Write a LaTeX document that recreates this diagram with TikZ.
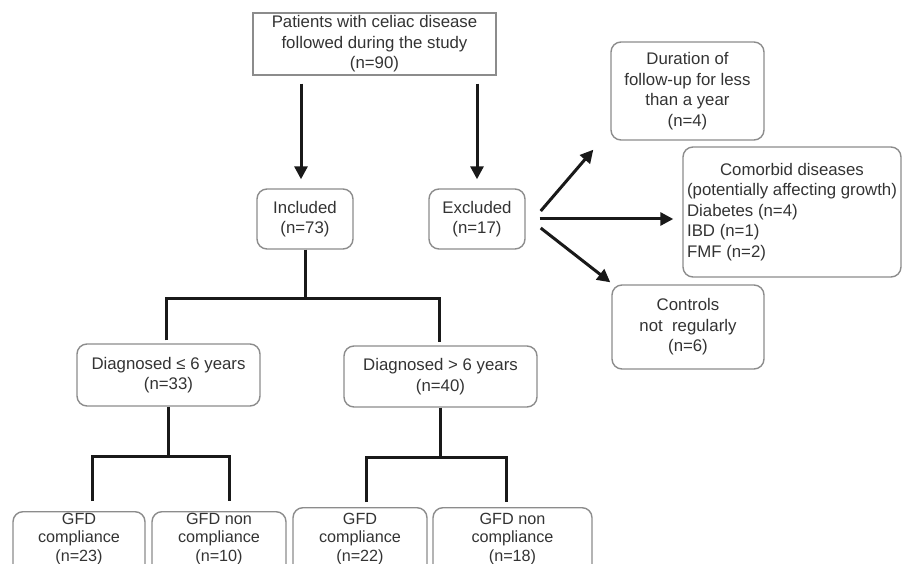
\documentclass[tikz,border=0pt]{standalone}
\usepackage{fontspec}
\setmainfont{Liberation Sans}
\usetikzlibrary{arrows.meta,calc}
\definecolor{boxgray}{HTML}{8C8C8C}
\definecolor{txtc}{HTML}{333333}
\begin{document}
\begin{tikzpicture}[x=1pt,y=-1pt,
  box/.style={draw=boxgray, line width=1.4pt, rounded corners=10pt, inner sep=0pt,
    align=center, text=txtc, font=\fontsize{16.8}{20.5}\selectfont},
  sqbox/.style={box, rounded corners=0pt},
  txt/.style={inner sep=0pt, align=center, text=txtc, font=\fontsize{16.2}{18.8}\selectfont},
  conn/.style={line width=3pt, draw=black!90},
  arr/.style={conn, -{Triangle[length=13pt,width=13pt]}}
]
\useasboundingbox (0,0) rectangle (903,564);
\clip (0,0) rectangle (903,564);

% nodes
\node[sqbox, minimum width=243pt, minimum height=62pt] (top) at (374.5,44)
  {Patients with celiac disease\\followed during the study\\(n=90)};
\node[box, minimum width=96pt, minimum height=60pt] (inc) at (305,219) {Included\\(n=73)};
\node[box, minimum width=96pt, minimum height=60pt] (exc) at (477,219) {Excluded\\(n=17)};
\node[box, minimum width=153pt, minimum height=98pt] (dur) at (687.5,91)
  {Duration of\\follow-up for less\\than a year\\(n=4)};
\node[box, minimum width=218pt, minimum height=130pt] (com) at (792,212)
  {\begin{tabular}{@{}l@{}}\multicolumn{1}{@{}c@{}}{Comorbid diseases}\\(potentially affecting growth)\\Diabetes (n=4)\\IBD (n=1)\\FMF (n=2)\end{tabular}};
\node[box, minimum width=152pt, minimum height=84pt] (con) at (688,327)
  {Controls\\not\ \ regularly\\(n=6)};
\node[box, minimum width=183pt, minimum height=62pt] (d1) at (168.5,375) {Diagnosed ≤ 6 years\\(n=33)};
\node[box, minimum width=193pt, minimum height=61pt] (d2) at (440.5,376.5) {Diagnosed > 6 years\\(n=40)};

\node[box, minimum width=132pt, minimum height=90pt, anchor=north] (g1) at (79,511) {};
\node[box, minimum width=134pt, minimum height=90pt, anchor=north] (g2) at (219,511) {};
\node[box, minimum width=134pt, minimum height=90pt, anchor=north] (g3) at (360,507) {};
\node[box, minimum width=159pt, minimum height=90pt, anchor=north] (g4) at (512.5,507) {};
\node[txt, anchor=north] (g1t) at ($(g1.north)+(0,1.5)$) {GFD\\compliance\\(n=23)};
\node[txt, anchor=north] (g2t) at ($(g2.north)+(0,1.5)$) {GFD non\\compliance\\(n=10)};
\node[txt, anchor=north] (g3t) at ($(g3.north)+(0,5.5)$) {GFD\\compliance\\(n=22)};
\node[txt, anchor=north] (g4t) at ($(g4.north)+(0,5.5)$) {GFD non\\compliance\\(n=18)};

% arrows
\draw[arr] ($(top.south -| inc.north)+(-4,8)$) -- ($(inc.north)+(-4,-9)$);
\draw[arr] ($(top.south -| exc.north)+(0,8)$) -- ($(exc.north)+(0,-9)$);
\draw[arr] ($(exc.east)+(15,-8)$) -- ($(dur.south west)+(-17,9)$);
\draw[arr] ($(exc.east)+(14,0)$) -- ($(com.west)+(-9,7)$);
\draw[arr] ($(exc.east)+(15,9)$) -- ($(con.north west)+(-1,-2)$);

% tree connectors
\draw[conn] (inc.south) -- ++(0,49);
\draw[conn] ($(d1.north)+(-2,-3)$) |- ($(inc.south)+(0,49)$) -| ($(d2.north)+(-1,-3)$);
\draw[conn] (d1.south) -- ++(0,50);
\draw[conn] ($(g1.north)+(13,-10)$) |- ($(d1.south)+(0,50)$) -| ($(g2.north)+(10,-10)$);
\draw[conn] (d2.south) -- ++(0,50);
\draw[conn] ($(g3.north)+(6,-5)$) |- ($(d2.south)+(0,50)$) -| ($(g4.north)+(-6.5,-5)$);
\end{tikzpicture}
\end{document}
